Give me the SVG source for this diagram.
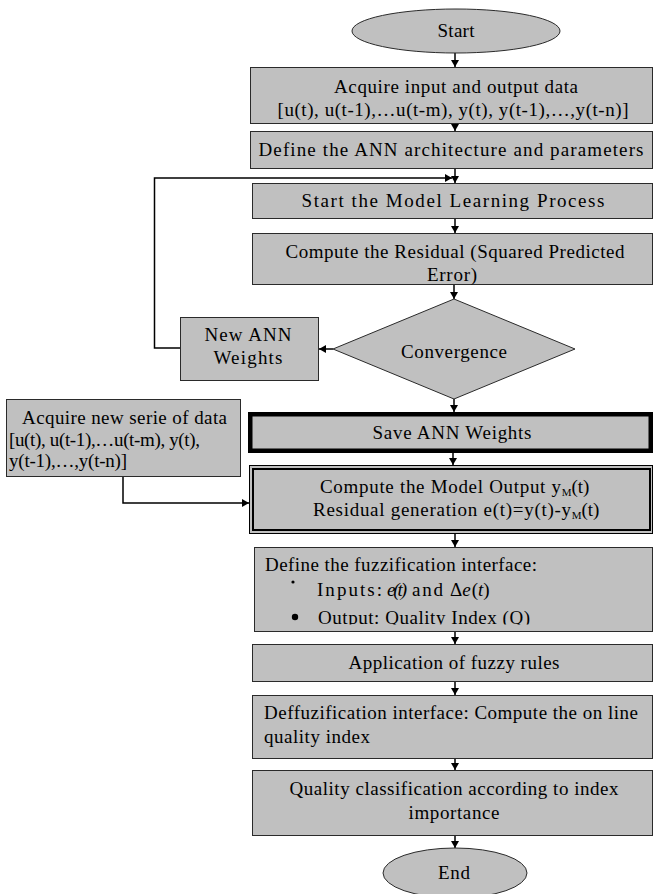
<svg xmlns="http://www.w3.org/2000/svg" width="654" height="894" viewBox="0 0 654 894">
<style>
.box{fill:#c0c0c0;stroke:#2a2a2a;stroke-width:1}
.t{font-family:"Liberation Serif","Times New Roman",serif;font-size:19px;fill:#000}
.c{text-anchor:middle}
.i{font-style:italic}
.conn{fill:none;stroke:#000;stroke-width:1.5}
.arr{marker-end:url(#ah)}
</style>
<defs>
<marker id="ah" markerUnits="userSpaceOnUse" markerWidth="9" markerHeight="9" refX="7" refY="4" orient="auto">
<path d="M0,0 L7,4 L0,8 Z" fill="#000"/>
</marker>
<clipPath id="fuzzclip"><rect x="255" y="548" width="398" height="76.5"/></clipPath>
</defs>
<rect width="654" height="894" fill="#fff"/>
<g id="connectors">
<path class="conn arr" d="M455,53 V67"/>
<path class="conn arr" d="M455,124 V131"/>
<path class="conn arr" d="M455,169 V183"/>
<path class="conn arr" d="M455,219 V233"/>
<path class="conn arr" d="M454,285 V299"/>
<path class="conn arr" d="M333,349 H319"/>
<path class="conn arr" d="M180,348 H154.5 V178 H452"/>
<path class="conn arr" d="M454,399 V412"/>
<path class="conn arr" d="M453,453 V465"/>
<path class="conn arr" d="M123,477 V503 H249"/>
<path class="conn arr" d="M455,534 V547"/>
<path class="conn arr" d="M455,632 V644"/>
<path class="conn arr" d="M455,682 V695"/>
<path class="conn arr" d="M455,759 V770"/>
<path class="conn arr" d="M455,836 V848"/>
</g>
<g id="start">
<ellipse class="box" cx="456" cy="31" rx="104" ry="22"/>
<text class="t c" x="456" y="37" textLength="37">Start</text>
</g>
<g id="acquire">
<rect class="box" x="250.5" y="67.5" width="402" height="56"/>
<text class="t c" x="456" y="93" textLength="244">Acquire input and output data</text>
<text class="t c" x="453" y="116" textLength="351">[u(t), u(t-1),…u(t-m), y(t), y(t-1),…,y(t-n)]</text>
</g>
<g id="define-ann">
<rect class="box" x="250.5" y="131.5" width="402" height="37"/>
<text class="t c" x="451" y="156" textLength="385">Define the ANN architecture and parameters</text>
</g>
<g id="start-learning">
<rect class="box" x="252.5" y="183.5" width="400" height="35"/>
<text class="t c" x="453" y="207" textLength="303">Start the Model Learning Process</text>
</g>
<g id="residual">
<rect class="box" x="252.5" y="233.5" width="400" height="51"/>
<text class="t c" x="455" y="258" textLength="339">Compute the Residual (Squared Predicted</text>
<text class="t c" x="452" y="281" textLength="50">Error)</text>
</g>
<g id="convergence">
<polygon class="box" points="454,299 575,349 454,399 333,349"/>
<text class="t c" x="454" y="358" textLength="106">Convergence</text>
</g>
<g id="new-weights">
<rect class="box" x="180.5" y="317.5" width="138" height="63"/>
<text class="t c" x="248" y="341" textLength="87">New ANN</text>
<text class="t c" x="248" y="364" textLength="69">Weights</text>
</g>
<g id="save-weights">
<rect class="box" x="250.25" y="414.25" width="400.5" height="36.5" style="stroke:#000;stroke-width:4.5"/>
<text class="t c" x="452" y="439" textLength="159">Save ANN Weights</text>
</g>
<g id="acquire-new">
<rect class="box" x="6.5" y="399.5" width="234" height="77"/>
<text class="t" x="22" y="424" textLength="205">Acquire new serie of data</text>
<text class="t" x="9" y="446" textLength="191">[u(t), u(t-1),…u(t-m), y(t),</text>
<text class="t" x="9" y="467" textLength="118">y(t-1),…,y(t-n)]</text>
</g>
<g id="model-output">
<rect class="box" x="249.5" y="465.5" width="403" height="68" style="stroke:#000"/>
<rect x="253" y="469" width="397" height="61" fill="none" stroke="#000" stroke-width="2"/>
<text class="t" x="320" y="493"><tspan textLength="241">Compute the Model Output y</tspan><tspan dy="3" font-size="11">M</tspan><tspan dy="-3">(t)</tspan></text>
<text class="t" x="313" y="516"><tspan textLength="258">Residual generation e(t)=y(t)-y</tspan><tspan dy="3" font-size="11">M</tspan><tspan dy="-3">(t)</tspan></text>
</g>
<g id="fuzzification">
<rect class="box" x="254.5" y="547.5" width="398" height="84"/>
<text class="t" x="265" y="571" textLength="272">Define the fuzzification interface:</text>
<circle cx="293" cy="582" r="1.6" fill="#000"/>
<text class="t" x="317" y="596"><tspan textLength="65">Inputs:</tspan><tspan x="387" class="i" textLength="20">e(t)</tspan><tspan x="412" textLength="31">and</tspan><tspan x="450">Δ</tspan><tspan class="i">e</tspan><tspan dx="1">(</tspan><tspan class="i">t</tspan><tspan>)</tspan></text>
<circle cx="295" cy="617" r="3.2" fill="#000"/>
<text class="t" x="318" y="624" textLength="212" clip-path="url(#fuzzclip)">Output: Quality Index (Q)</text>
</g>
<g id="fuzzy-rules">
<rect class="box" x="252.5" y="644.5" width="400" height="37"/>
<text class="t c" x="454" y="669" textLength="211">Application of fuzzy rules</text>
</g>
<g id="defuzzification">
<rect class="box" x="252.5" y="695.5" width="400" height="63"/>
<text class="t" x="264" y="719" textLength="374">Deffuzification interface: Compute the on line</text>
<text class="t" x="264" y="743" textLength="106">quality index</text>
</g>
<g id="classification">
<rect class="box" x="252.5" y="770.5" width="400" height="65"/>
<text class="t c" x="454" y="795" textLength="329">Quality classification according to index</text>
<text class="t c" x="454" y="819" textLength="91">importance</text>
</g>
<g id="end">
<ellipse class="box" cx="455" cy="873" rx="72" ry="25"/>
<text class="t c" x="454" y="879" textLength="32">End</text>
</g>
</svg>
